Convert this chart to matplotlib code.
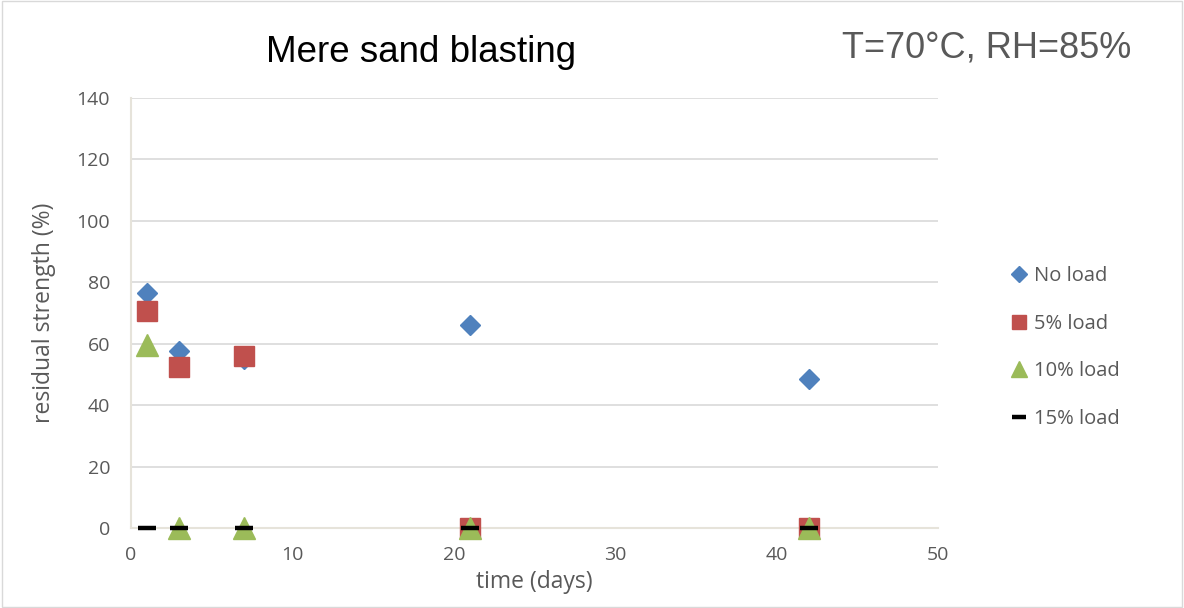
import matplotlib
matplotlib.use("Agg")
import matplotlib.pyplot as plt
from matplotlib.patches import Rectangle

days = [1, 3, 7, 21, 42]
no_load = [76.5, 57.5, 55, 66, 48.5]
load5 = [70.5, 52.5, 56, 0, 0]
load10 = [59.5, 0, 0, 0, 0]
load15 = [0, 0, 0, 0, 0]
series_names = ["No load", "5% load", "10% load", "15% load"]
xticks = [0, 10, 20, 30, 40, 50]
yticks = [0, 20, 40, 60, 80, 100, 120, 140]

fig = plt.figure(figsize=(11.84, 6.08), dpi=100)
ax = fig.add_axes([131/1184, 80/608, (938-131)/1184, (528-98)/608])

label_font = ["Open Sans", "DejaVu Sans"]
tc = "#595959"

ax.plot(days, no_load, linestyle="none", marker="D", markersize=10.5,
        color="#4f81bd", label=series_names[0], zorder=3, clip_on=False)
ax.plot(days, load5, linestyle="none", marker="s", markersize=14,
        color="#c0504d", label=series_names[1], zorder=4, clip_on=False)
ax.plot(days, load10, linestyle="none", marker="^", markersize=16,
        color="#9bbb59", label=series_names[2], zorder=5, clip_on=False)
ax.plot(days, load15, linestyle="none", marker="_", markersize=13,
        markeredgewidth=3.2, color="black", label=series_names[3], zorder=6,
        clip_on=False)

ax.set_xlim(0, 50)
ax.set_ylim(0, 140)
ax.set_xticks(xticks)
ax.set_yticks(yticks)
ax.grid(axis="y", color="#d9d9d9", linewidth=1.2, zorder=0)
ax.set_axisbelow(True)
for s in ["top", "right"]:
    ax.spines[s].set_visible(False)
for s in ["left", "bottom"]:
    ax.spines[s].set_color("#e6e3da")
    ax.spines[s].set_linewidth(1.5)
ax.tick_params(length=0, labelsize=14, labelcolor=tc)
ax.tick_params(axis="y", pad=15)
ax.tick_params(axis="x", pad=13)
for lab in ax.get_xticklabels() + ax.get_yticklabels():
    lab.set_fontfamily(label_font)

ax.set_xlabel("time (days)", fontsize=16.5, color=tc, family=label_font)
ax.set_ylabel("residual strength (%)", fontsize=16.5, color=tc, family=label_font)
ax.yaxis.set_label_coords(-87/807, 0.5)
ax.xaxis.set_label_coords(0.5, -(582-528)/430)
ax.xaxis.label.set_va("center")
ax.yaxis.label.set_va("center")

fig.text(421/1184, 1 - 52/608, "Mere sand blasting", fontsize=26.5,
         family=["Liberation Sans", "DejaVu Sans"], ha="center", va="center", color="black")
fig.text(987/1184, 1 - 48/608, "T=70°C, RH=85%", fontsize=26,
         family=["Liberation Sans", "DejaVu Sans"], ha="center", va="center", color="#595959")

leg = ax.legend(loc="upper left", bbox_to_anchor=(1000/1184, 1 - 256/608),
                bbox_transform=fig.transFigure, frameon=False,
                prop={"family": label_font, "size": 14.5}, labelspacing=1.37,
                handlelength=0.9, handletextpad=0.3, markerscale=0.75,
                borderpad=0)
for t in leg.get_texts():
    t.set_color(tc)

fig.patches.append(Rectangle((0.002, 0.002), 0.996, 0.996, transform=fig.transFigure,
                             fill=False, edgecolor="#d9d9d9", linewidth=1))

fig.savefig("out.png", dpi=100)
